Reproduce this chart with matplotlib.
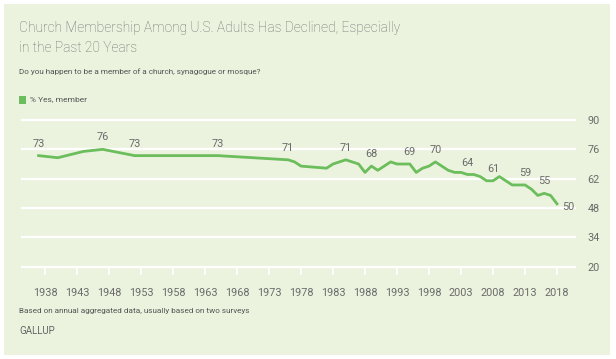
import matplotlib
matplotlib.use("Agg")
import matplotlib.pyplot as plt
from matplotlib.patches import Rectangle

years = [1937, 1940, 1944, 1947, 1952, 1965, 1976, 1977, 1978, 1982, 1983, 1985,
         1987, 1988, 1989, 1990, 1992, 1993, 1994, 1995, 1996, 1997, 1998, 1999,
         2000, 2001, 2002, 2003, 2004, 2005, 2006, 2007, 2008, 2009, 2010, 2011,
         2012, 2013, 2014, 2015, 2016, 2017, 2018]
pct_member = [73, 72, 75, 76, 73, 73, 71, 70, 68, 67, 69, 71,
              69, 65, 68, 66, 70, 69, 69, 69, 65, 67, 68, 70,
              68, 66, 65, 65, 64, 64, 63, 61, 61, 63, 61, 59,
              59, 59, 57, 54, 55, 54, 50]
label_years = [1937, 1947, 1952, 1965, 1976, 1985, 1989, 1995, 1999, 2004, 2008, 2013, 2016, 2018]
x_ticks = list(range(1938, 2019, 5))
y_ticks = [20, 34, 48, 62, 76, 90]

title_lines = ["Church Membership Among U.S. Adults Has Declined, Especially",
               "in the Past 20 Years"]
subtitle = "Do you happen to be a member of a church, synagogue or mosque?"
legend_label = "% Yes, member"
footnote = "Based on annual aggregated data, usually based on two surveys"
source = "GALLUP"

W, H = 616, 359
fig = plt.figure(figsize=(W / 100, H / 100), dpi=100)
fig.patch.set_facecolor("white")

bg = "#EBF3DE"
green = "#6CBD5B"
grey = "#6B6B6B"

fig.add_artist(Rectangle((4 / W, 1 - 355 / H), 606 / W, 351 / H,
                         transform=fig.transFigure, facecolor=bg, edgecolor="none", zorder=0))

def fx(px):
    return px / W

def fy(py):
    return 1 - py / H

ax_left, ax_right = 21.7, 575
ax_top, ax_bot = 120, 266.7
ax = fig.add_axes([fx(ax_left), fy(ax_bot), (ax_right - ax_left) / W, (ax_bot - ax_top) / H])
ax.set_facecolor("none")
x0 = 1938 - (45 - ax_left) / 6.4
x1 = 1938 + (ax_right - 45) / 6.4
ax.set_xlim(x0, x1)
ax.set_ylim(20, 90)

for yv in y_ticks:
    ax.axhline(yv, color="white", lw=1.6, zorder=1, clip_on=False)

ax.plot(years, pct_member, color=green, lw=2.0, zorder=3, solid_joinstyle="round")

for y, v in zip(years, pct_member):
    if y in label_years:
        if y == 2018:
            ax.annotate(str(v), (y, v), xytext=(4, -2), textcoords="offset points",
                        ha="left", va="center", fontsize=7.8, color=grey, family="Roboto")
        else:
            ax.annotate(str(v), (y, v), xytext=(0, 5), textcoords="offset points",
                        ha="center", va="bottom", fontsize=7.8, color=grey, family="Roboto")

for s in ax.spines.values():
    s.set_visible(False)
ax.set_xticks(x_ticks)
ax.set_xticklabels([str(t) for t in x_ticks], fontsize=7.8, color=grey, family="Roboto")
ax.tick_params(axis="x", direction="out", length=6, width=1.2, color="white", pad=9)
ax.yaxis.tick_right()
ax.set_yticks(y_ticks)
ax.set_yticklabels([str(t) for t in y_ticks], fontsize=7.8, color=grey, family="Roboto")
ax.tick_params(axis="y", length=0, pad=9)

for i, line in enumerate(title_lines):
    fig.text(fx(19), fy(28 + 20 * i), line, fontsize=9.9, color="#6E6E6E", family="Roboto",
             fontweight="light", va="center", ha="left")
fig.text(fx(19), fy(72), subtitle, fontsize=5.9, color="#555555", family="Roboto",
         va="center", ha="left")
fig.add_artist(Rectangle((fx(19), fy(103.5)), 7 / W, 7 / H, transform=fig.transFigure,
                         facecolor=green, edgecolor="none"))
fig.text(fx(30), fy(99.5), legend_label, fontsize=6.0, color="#555555", family="Roboto",
         va="center", ha="left")
fig.text(fx(19), fy(311.5), footnote, fontsize=5.9, color="#555555", family="Roboto",
         va="center", ha="left")
fig.text(fx(19), fy(330.5), source, fontsize=7.0, color="#666666", family="Roboto",
         va="center", ha="left")

fig.savefig("out.png", dpi=100, facecolor="white")
